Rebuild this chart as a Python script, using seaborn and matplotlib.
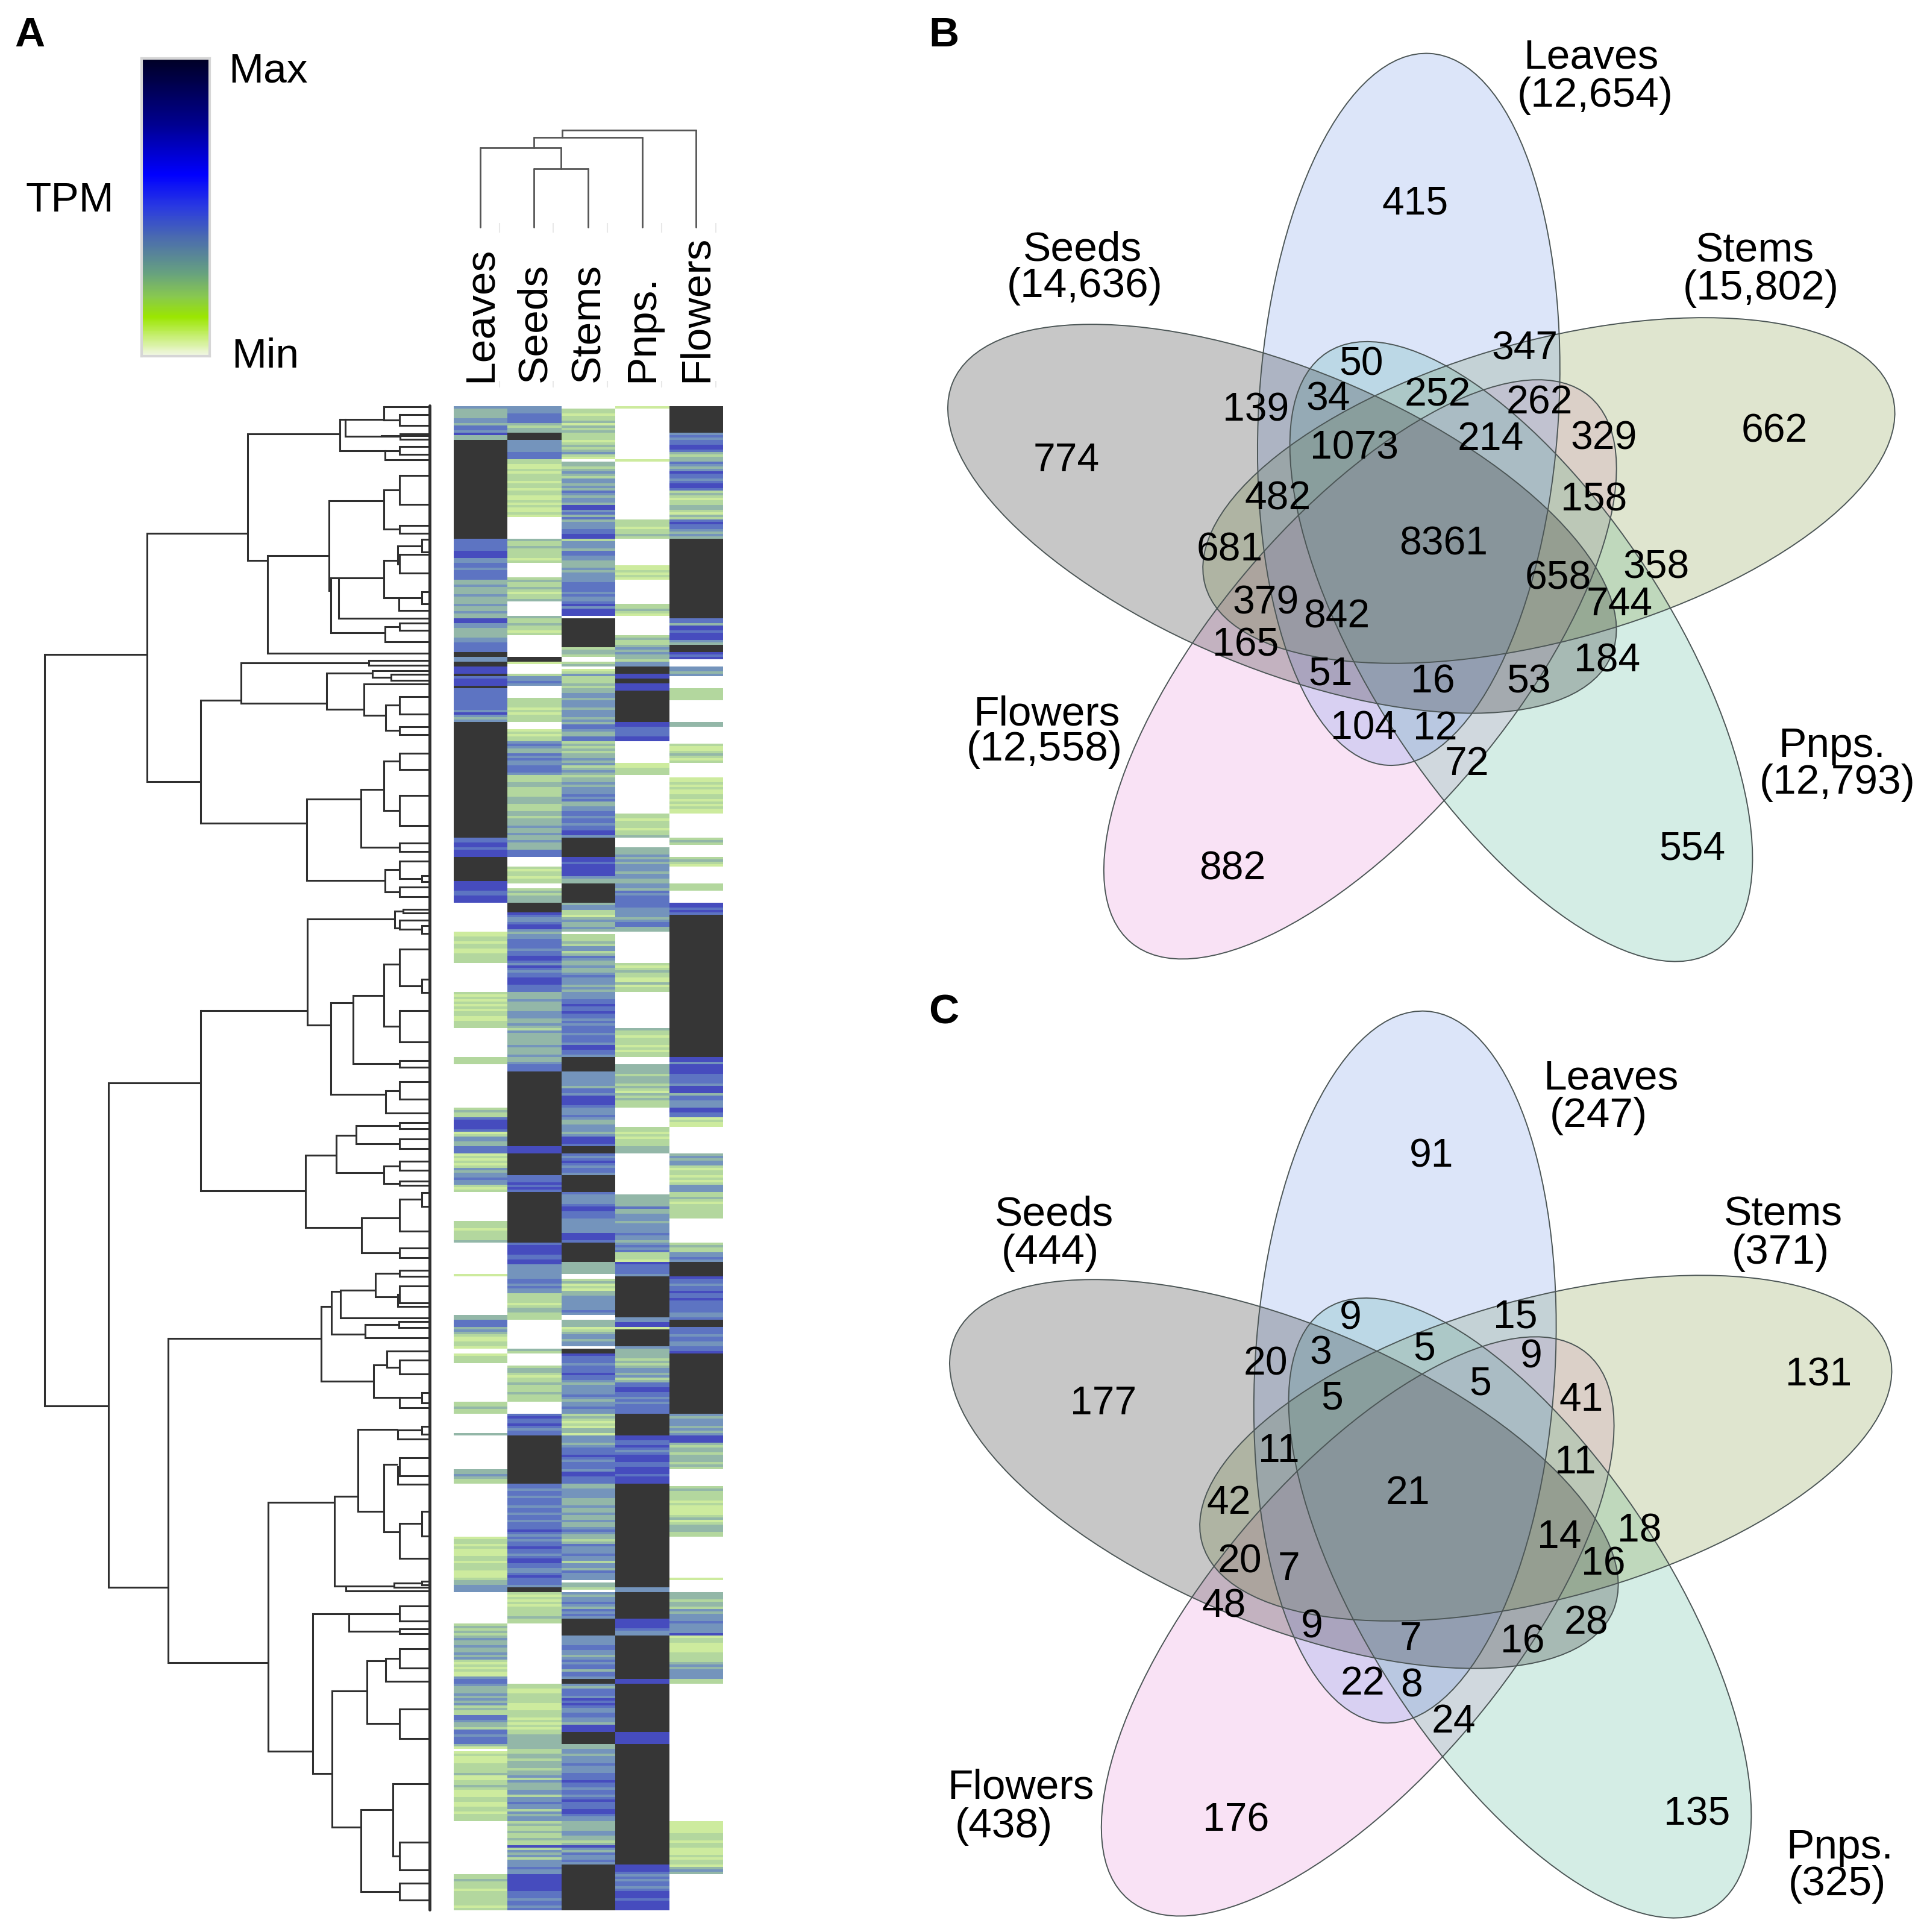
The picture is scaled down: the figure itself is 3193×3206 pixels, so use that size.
# Expression heatmap with dendrograms plus two five-set Venn panels
import matplotlib.pyplot as plt
import numpy as np
import pandas as pd
import seaborn as sns
from matplotlib.colors import LinearSegmentedColormap, ListedColormap
from matplotlib.patches import Ellipse

TISSUES = ['Leaves', 'Seeds', 'Stems', 'Pnps.', 'Flowers']

# heatmap rows. "7*41" = level 7 for 41 rows
LEAVES = [
    "0 4 3*4 4*2 3 5*2 4 6 3*2 7*41 5*5 6*3 4*2 5*2 4 5*4 3*2 4 3*3 4 3*3 4 3*2 4 3*2 6*2 4*2 3*4 4*2 5*4 7*2 4*2 7*2 6*3 7 5 6*3 7 5*7",
    "5 5 4 6 4 3 4 7*48 5 5 6 6 5 6 6 6 7*10 6 6 6 6 5 5 6 6 6 0*12 1 1 2 2 1 2 2 1 1 2 2 2 2 0*12 2 1 2 1 2 1",
    "2 1 2 2 1 1 2 2 2 0*12 2 2 2 0*18 2 3 2 2 5 6 6 6 6 5 1 2 4 4 3 3 5 5 5 1 2 1 2 1 2 4 3 4 4 5 4 4 2 1 2 0*12 2 2 2 1 2 2 2 2 3 0*13 1 0*13",
    "0*3 3 3 5 5 5 3 4 3 2 1 1 2 2 1 0*2 1 2 2 2 0*16 2 2 3 2 2 0*8 3 0*14 3 3 4 3 2 2 0*22 1 2 2 1 2 1 1 1 2 2 1 2 2 2 1 1 1 2 3 3 4 4 4 0*7",
    "0*6 2 3 2 3 2 3 4 3 3 4 3 3 4 3 4 2 1 2 1 2 1 1 4 5 5 4 3 3 3 4 3 4 3 4 2 3 2 2 5 5 4 3 3 2 5 5 4 5 5 5 3 1 0 1 2 1 1 1 2 2 2 2 3 1 1 2 2 3 2 1 1 1 2 2 1 1 2 2 1 2 2 2 0*22 2 2 3 2 2 2 1 2 2 2 2 2 2 1 2",
]
SEEDS = [
    "0 4*3 5*4 3 2 3 3 7*3 4*5 5*3 2 2 1 1 2 1 2*3 1 2*2 1 2*2 1 1 2 1 2 1 1 2 1 0*9 3 2 2 3 2 2 2 2 1 2 0*6 2 3 2 2 3 2 1 2 2 3 0*6 3 2 2 3 2 2 1 2 0*9 7*2 1 0*4 2 4 4 5 4 0*5 2*2",
    "2 1 2 1 2 2 2 0*3 1 2 1 2 2 4 5 4 3 3 5 4 5 4 4 5 5 5 4 2 2 2 3 3 2 2 2 2 3 3 3 2 2 2 3 3 2 3 3 3 4 3 3 4 3 3 4 3 3 3 5 5 5 0*4 2 1 2 2 1 2 2 0*2 2 3 2 3 3 3 7*4 6 5 4 4 5 6 6 4 3 4 4 5 5 5 5 4 5 5 6 6 5 4 6 5 4 5 5 6 6 6 5 5 5 3 3 3 4 3 3",
    "3 3 4 4 4 3 3 4 3 2 4 3 3 3 3 3 4 3 3 3 4 3 3 4 5 5 5 7*31 6 6 6 7*9 5 5 5 6 5 6 5 7*21 5 6 6 6 6 5 5 6 6 4 4 4 4 4 4 5 5 4 5 4 4 2 2 2 2 1 2",
    "3 3 2 2 2 0*12 3 2 0*5 2 3 3 2 1 2 2 3 2 2 2 3 2 2 2 0*5 5 6 5 5 6 5 4 5 5 7*20 5 5 4 5 5 4 5 5 5 4 5 5 4 5 5 4 5 5 5 6 5 4 5 4 5 5 6 5 5 4 5 6 6 5 5 4 4 5 6 5 5 5 4 7*2 2 1 2 1 2 1 2",
    "2 2 2 3 2 2 0*25 2 2 1 1 2 2 2 2 1 1 1 2 2 2 1 2 1 2 1 2 2 3*6 2 2 3 3 2 3 3 3 2 3 3 4 2 4 3 3 3 4 4 2 4 4 5 4 4 2 4 3 4 4 2 3 2 2 3 2 2 3 2 2 6 2 4 3 4 2 4 4 4 5 4 4 6*7 5 5 5 4 5 5 4 5",
]
STEMS = [
    "0*2 2 2 1 2 2 3 1 3 2 3 2 2 2 1 2 3 2 3 4 2 1 0 3 3 2 3 4 3 2 4 4 3 4 3 5 4 3 4 4 3 6*2 4 5 3 5 3 4 4 4 5 5 6 6 2 4 4 4 3 5 5 4 4 3 3 3 4 3 4 4 4 4 5 5 5 5 4 5 4 4 5 6 4 6 6 6 0 7*12 2 3 3 2 0*2 2 3 0 1 2 4 2 2 2 3 2 3 3 4 4 3 4 4",
    "4 3 4 4 4 3 4 3 5 5 4 3 3 5 5 2 3 2 3 2 3 3 4 3 4 2 3 4 3 2 3 3 4 3 4 4 4 5 4 5 3 3 4 4 5 5 4 5 5 4 5 5 6 6 4 7*8 6 6 5 6 6 6 6 6 4 3 3 7*8 3 4 4 2 2 1 3 4 3 3 4 3 0 2 2 2 3 2 4 4 2 3 5 4 3 3 4 3 3 4 5 4 4 4 3 4 3 4 4 4 5 5 6",
    "5 5 6 5 5 4 5 4 5 5 5 4 5 5 5 4 6 6 5 5 4 7*6 4 4 4 4 4 4 3 5 5 4 6 6 6 6 5 4 4 4 5 4 3 3 4 4 4 3 4 6 6 6 5 7*3 5 4 5 6 5 4 5 5 4 7*7 5 4 4 4 4 5 6 6 5 5 5 4 4 4 4 4 4 6 6 6 5 7*8 3 3 3 3 3 0*2 2 3 1 2 1 3 3 4 4 4 4 4",
    "4 5 4 0*2 3 3 3 1 2 3 4 4 3 4 4 0 7 7 6 5 5 5 4 5 5 5 6 5 5 4 3 4 4 4 4 5 4 3 4 4 5 4 4 2 3 2 1 2 1 3 3 1 4 4 4 3 4 5 5 5 6 5 4 5 5 5 4 6 6 5 5 5 3 3 4 4 4 4 3 3 3 4 3 3 4 3 3 4 3 3 4 5 4 3 3 2 3 5 4 4 4 5 4 4 2 4 4 3 5 4 4 4 0 3 3 2 0 4 3 4 4 5 4 3",
    "5 4 5 4 7*7 4 4 4 4 5 5 4 4 3 4 5 4 5 5 3 5 5 4 7*2 4 3 5 5 5 4 6 5 6 5 4 4 5 5 4 4 3 6 6 6 7*5 3 3 4 4 3 4 4 4 5 4 4 4 5 5 5 6 5 5 4 5 5 4 5 6 5 5 5 6 6 5 4 4 3 3 3 3 4 4 3 3 2 3 6 4 3 5 4 4 5 4 7*19",
]
PNPS = [
    "0 1 0*13 0*8 1 0*24 2 2 2 1 2 2 3 2 0*11 1 1 2 1 2 1 0*10 2 2 3 2 1 0*8 2 3 2 2 3 4 3 4 3 3 2 4 4 7*3 6*2 7*2 6*3 7*6",
    "7*7 6 6 5 5 5 5 6 6 0*9 1 1 2 2 2 0*16 2 2 1 2 2 2 1 2 2 3 0*4 3 3 3 4 3 4 3 4 4 4 3 4 4 3 3 4 4 3 5 4 5 5 5 5 5 4 4 4 4 3 4 5 5 3 3 0*13 2 1 2 3 2 2 1 1 3 1 2 2 0*6",
    "0*9 3 2 2 1 2 2 2 1 2 1 2 2 0*3 3 3 3 3 2 3 3 3 2 3 2 1 3 2 3 2 2 2 0*8 2 2 1 2 1 2 2 2 3 3 3 0*17 3 3 3 3 3 5 3 3 4 4 4 3 4 4 4 4 5 4 4 3 4 5 4 5 2 2 2 1 6 5 5 5 5 4 7*13",
    "7*4 4 4 6 6 1 7*7 4 3 3 3 3 2 3 2 3 4 4 3 4 2 3 5 5 6 6 5 5 4 5 4 5 5 5 5 7*9 6 6 5 5 6 5 4 5 6 6 6 5 5 6 6 6 5 6 6 6 7*43 4 4 7*7",
    "7*4 6 6 6 6 5 4 4 7*18 6 6 7*20 6*5 7*50 6 6 6 5 4 5 4 5 5 4 5 6 6 6 5 6 6 6 6",
]
FLOWERS = [
    "0 7*11 4 5 4 5 5 6 6 5 3 2 3 3 5 4 3 4 6 5 5 4 5 6 6 5 2 3 2 1 2 2 3 3 2 1 3 2 5 6 5 5 4 3 4 3 7*33 5 5 3 6 6 5 6 6 6 4 3 7*3 6 5 6 0*3 4 4 3 4 0*5 2*5 0*2",
    "0*7 3 3 0*7 2 1 1 2 3 2 1 2 0*6 1 1 2 1 2 1 1 2 2 1 2 1 2 1 1 0*10 2 3 2 0*5 2 3 2 1 0*7 2 2 2 0*5 6 6 5 6 5 7*38",
    "7*21 6 6 4 6 6 6 6 5 5 5 5 4 6 6 6 3 5 5 4 4 4 6 6 5 5 1 2 1 1 0*11 3 4 3 4 4 2 1 2 2 1 2 1 2 4 4 4 2 2 3 2 1 2 2 2 2 2 2 0*10 2 3 2 2 4 4 5 4 7*6 6 5 5 4 5 5 6 5 5 6 5 5 5",
    "5 5 4 4 5 7*3 5 5 5 4 5 5 4 4 5 5 6 7*25 4 3 4 4 4 3 4 3 4 6 6 6 3 2 3 3 2 3 3 3 2 3 2 0*7 2 3 2 2 2 2 1 2 1 1 1 1 2 3 1 2 3 3 3 2 2 0*17 1 0*5 3 3 3 2 3 3 2",
    "4 3 4 4 4 5 4 4 4 4 6 1 2 2 1 1 1 1 2 2 2 2 3 4 3 4 4 4 4 2 2 0*57 1 1 1 1 1 2 2 2 1 2 2 1 1 1 2 1 2 2 1 3 4 3 0*15",
]
RUNS = [LEAVES, SEEDS, STEMS, PNPS, FLOWERS]

# colours of levels 0..7 in the heatmap
LEVEL_COLOURS = ['#ffffff', '#cdeb9e', '#b3d79e', '#93b7a8', '#7494bc',
                 '#5d74c2', '#464cbe', '#363636']
TPM_COLOURS = [(0, '#f2f7e6'), (0.13, '#9be600'), (0.2, '#88c850'),
               (0.28, '#66a080'), (0.4, '#4a6ab0'), (0.5, '#2a3ae0'),
               (0.61, '#0000ff'), (0.78, '#000090'), (1, '#000025')]

# gene dendrogram: (x of the join, child, child[, row of its stem])
# plain numbers are leaf rows; joins without a stem row take the middle
ROW_TREE = (153,
    (503,
        (848,
            (1163,
                (1183,
                    (1315, 42, (1368, 58, 80), 68),
                    (1305, 100, (1370, 96, 107)), 68),
                (1318, (1368, 122, 138), 148, 130), 97),
            (917,
                (1127,
                    (1315, (1368, 180, 238), (1368, 280, 295), 230),
                    (1132,
                        (1160,
                            (1315,
                                (1362, (1445, 308, 333), (1368, 338, 375), 350),
                                (1365, (1445, 412, 437), 450, 425), 385),
                            465, 385),
                        (1318, (1368, 475, 490), 512, 495), 410), 340),
                535, 350), 295),
        (688,
            (825,
                (1262, 550, 560, 555),
                (1118,
                    (1275, 570, (1340, 578, 590), 575),
                    (1247, 597, (1320, (1368, 622, 657), (1368, 682, 698), 660), 648), 635), 630),
            (1050,
                (1235,
                    (1315, (1368, 735, 768), (1368, 820, 880), 808),
                    (1368, 915, 932), 827),
                (1318,
                    (1368, 952, (1445, 980, 992), 968),
                    (1368, 1003, 1022), 990), 875), 792), 538),
    (372,
        (688,
            (1052,
                (1352, (1380, 1048, 1055), (1368, 1070, (1445, 1080, 1096), 1085), 1067),
                (1132,
                    (1208,
                        (1315,
                            (1368, 1127, (1445, 1188, 1214), 1158),
                            (1368, 1250, 1313), 1220),
                        (1368, 1350, 1364), 1235),
                    (1320, (1368, 1393, 1428), 1455, 1418), 1280), 1250),
            (1045,
                (1152,
                    (1220, (1368, 1475, 1487), (1368, 1507, 1527), 1500),
                    (1315, (1368, 1552, 1570), (1368, 1592, 1600), 1575), 1540),
                (1238,
                    (1368, (1445, 1615, 1642), 1692, 1665),
                    (1368, 1725, 1745), 1685), 1611), 1395),
        (575,
            (1100,
                (1135,
                    (1165,
                        (1285, (1368, 1770, 1782), (1362, (1368, 1802, 1835), 1842, 1823), 1810),
                        1865, 1812),
                    (1250, (1365, 1873, 1885), 1905, 1898), 1842),
                (1280,
                    (1325, 1932, (1368, 1950, 1978), 1960),
                    (1368, (1445, 2015, 2035), 2045, 2025), 1992), 1907),
            (918,
                (1145,
                    (1225,
                        (1362, (1445, 2082, 2098), 2108, 2088),
                        (1315,
                            (1362, (1368, 2145, 2182), 2198, 2158),
                            (1368, (1445, 2252, 2302), 2347, 2293), 2253), 2223),
                    (1185, (1350, (1445, 2392, 2400), 2405, 2402), 2412, 2402), 2235),
                (1070,
                    (1195, (1368, 2442, 2472), (1368, 2488, 2497), 2458),
                    (1137,
                        (1257,
                            (1320, (1368, 2528, 2566), 2592, 2552),
                            (1368, 2648, 2707), 2612),
                        (1235,
                            (1345, 2797, (1368, 2915, 2970), 2850),
                            (1368, 2997, 3030), 2885), 2777), 2733), 2555), 2404), 2042))
TREE_END = 1472

# tissue dendrogram: (pixel row of the join, child, child[, column of its stem])
COL_TREE = (216, (228, (245, 0, (280, 1, 2, 931), 886), 3, 933), 4)
COL_CENTRES = [797, 886, 976, 1066, 1155]
COL_TICKS = [829, 918, 1008, 1098, 1188]

# Venn panels
SETS = ['Flowers', 'Pnps.', 'Stems', 'Leaves', 'Seeds']
SET_COLOURS = ['#eb8fdb', '#57bb9b', '#839b43', '#779beb', '#232323']
SET_ANGLES = [-50, 57, -15.4, -86.6, 22.5]
B_CENTRES = [(1106.5, 544.5), (1237.5, 530), (1260, 399), (1146, 333), (1043, 422)]
C_CENTRES = [(1104.5, 1323), (1236.5, 1308), (1257.5, 1178), (1143, 1112), (1044.5, 1199)]

B_COUNTS = ['415', '774', '662', '882', '554', '50', '347', '139', '34', '252', '262',
            '329', '1073', '214', '482', '158', '681', '8361', '658', '358', '744',
            '379', '842', '165', '51', '16', '53', '184', '104', '12', '72']
B_COUNT_XY = [(1149, 163), (865, 372), (1441, 348), (1000, 704), (1374, 688), (1105, 294),
              (1238, 281), (1019, 331), (1078, 322), (1167, 319), (1250, 325), (1302, 354),
              (1099, 362), (1210, 355), (1037, 403), (1294, 404), (998, 445), (1172, 440),
              (1265, 468), (1345, 459), (1315, 489), (1027, 488), (1085, 499), (1011, 522),
              (1080, 546), (1163, 552), (1241, 552), (1305, 535), (1107, 590), (1165, 590),
              (1191, 619)]
B_TITLES = ['Leaves', '(12,654)', 'Seeds', '(14,636)', 'Stems', '(15,802)',
            'Flowers', '(12,558)', 'Pnps.', '(12,793)']
B_TITLE_XY = [(1292, 44), (1295, 75), (878, 200), (880, 230), (1425, 201), (1430, 232),
              (849, 578), (847, 607), (1488, 604), (1492, 634)]

C_COUNTS = ['91', '177', '131', '176', '135', '9', '15', '20', '3', '5', '9', '5', '5',
            '41', '11', '11', '42', '21', '14', '18', '16', '20', '7', '48', '9', '7',
            '16', '28', '22', '8', '24']
C_COUNT_XY = [(1162, 938), (895, 1139), (1477, 1116), (1003, 1478), (1378, 1473), (1096, 1070),
              (1230, 1069), (1027, 1107), (1072, 1098), (1156, 1095), (1243, 1101), (1081, 1135),
              (1202, 1123), (1284, 1136), (1038, 1178), (1279, 1187), (997, 1220), (1143, 1212),
              (1266, 1248), (1331, 1243), (1302, 1270), (1006, 1268), (1046, 1274), (993, 1304),
              (1065, 1321), (1145, 1331), (1236, 1333), (1288, 1318), (1106, 1367), (1146, 1369),
              (1180, 1398)]
C_TITLES = ['Leaves', '(247)', 'Seeds', '(444)', 'Stems', '(371)',
            'Flowers', '(438)', 'Pnps.', '(325)']
C_TITLE_XY = [(1308, 874), (1298, 905), (855, 985), (852, 1016), (1448, 985), (1446, 1016),
              (828, 1451), (814, 1483), (1494, 1500), (1492, 1530)]

W, H = 3193, 3206
SCALE = 2.04  # picture units used for the Venn panels -> pixels
TEXT_DX, TEXT_DY = 2.5, 3


def px_axes(fig, x0, y0, x1, y1, **kw):
    return fig.add_axes([x0 / W, 1 - y1 / H, (x1 - x0) / W, (y1 - y0) / H], **kw)


def expand(text, n_rows=125):
    rows = []
    for tok in text.split():
        level, _, count = tok.partition('*')
        rows += [int(level)] * int(count or 1)
    if len(rows) != n_rows:
        print('section length', len(rows))
    return (rows + [rows[-1]] * n_rows)[:n_rows]


def draw_row_tree(ax, node):
    if not isinstance(node, tuple):
        return TREE_END, node
    x, first, second = node[:3]
    p1 = draw_row_tree(ax, first)
    p2 = draw_row_tree(ax, second)
    ax.plot([x, x], [p1[1], p2[1]], color='#2f2f2f', lw=2.2, solid_capstyle='projecting')
    for p in (p1, p2):
        ax.plot([x, p[0]], [p[1], p[1]], color='#2f2f2f', lw=2.2, solid_capstyle='butt')
    stem = node[3] if len(node) > 3 else (p1[1] + p2[1]) / 2
    return x, stem


def draw_col_tree(ax, node, base):
    if not isinstance(node, tuple):
        return COL_CENTRES[node], base
    y, first, second = node[:3]
    p1 = draw_col_tree(ax, first, base)
    p2 = draw_col_tree(ax, second, base)
    ax.plot([p1[0], p2[0]], [y, y], color='#555555', lw=2)
    for p in (p1, p2):
        ax.plot([p[0], p[0]], [y, p[1]], color='#555555', lw=2)
    stem = node[3] if len(node) > 3 else (p1[0] + p2[0]) / 2
    return stem, y


def draw_venn(ax, centres):
    for c, colour, angle in zip(centres, SET_COLOURS, SET_ANGLES):
        ax.add_patch(Ellipse(c, 580, 244, angle=angle, facecolor=colour, alpha=0.25, lw=0))
    for c, angle in zip(centres, SET_ANGLES):
        ax.add_patch(Ellipse(c, 580, 244, angle=angle, fill=False, edgecolor='#4c5656', lw=1.4))


sns.set_theme(style='white')
plt.rcParams['font.family'] = ['Liberation Sans', 'DejaVu Sans']

fig = plt.figure(figsize=(W / 100, H / 100), dpi=100, facecolor='white')

# heatmap
table = pd.DataFrame(
    {name: sum((expand(part) for part in runs), []) for name, runs in zip(TISSUES, RUNS)})
ax_heat = px_axes(fig, 753, 670, 1200, 3170)
sns.heatmap(table, ax=ax_heat, cmap=ListedColormap(LEVEL_COLOURS), vmin=-0.5, vmax=7.5,
            cbar=False, yticklabels=False, linewidths=0)
ax_heat.xaxis.tick_top()
ax_heat.tick_params(axis='x', length=0, pad=26, labelsize=50, labelrotation=90, colors='black')

# colour key
ax_key = px_axes(fig, 235, 97, 348, 591)
tpm_cmap = LinearSegmentedColormap.from_list('tpm', TPM_COLOURS)
sns.heatmap(np.linspace(1, 0, 256)[:, None], ax=ax_key, cmap=tpm_cmap, vmin=0, vmax=1,
            cbar=False, xticklabels=False, yticklabels=False)
for spine in ax_key.spines.values():
    spine.set_visible(True)
    spine.set_color('#d6d6d6')
    spine.set_linewidth(3)

ax_rows = px_axes(fig, 0, 640, 760, 3200)
ax_rows.set_xlim(0, 1568)
ax_rows.set_ylim(3087, 0)
ax_rows.axis('off')
draw_row_tree(ax_rows, ROW_TREE)
ax_rows.plot([TREE_END, TREE_END], [40, 3050], color='#2f2f2f', lw=3.5)

# everything else sits on full-figure layers
ax_cols = fig.add_axes([0, 0, 1, 1], zorder=4)
ax_cols.set_xlim(0, W)
ax_cols.set_ylim(H, 0)
ax_cols.axis('off')
ax_cols.patch.set_alpha(0)
draw_col_tree(ax_cols, COL_TREE, 377)
ax_cols.vlines(COL_TICKS, 370, 386, color='#e8e8e8', lw=1.5)
ax_cols.vlines(COL_TICKS, 632, 643, color='#e8e8e8', lw=1.5)

ax = fig.add_axes([0, 0, 1, 1], zorder=5)
ax.set_xlim(0, W / SCALE)
ax.set_ylim(H / SCALE, 0)
ax.axis('off')
ax.patch.set_alpha(0)

ax.text(24, 29, 'A', fontsize=50, fontweight='bold', ha='center', va='center', color='black')
ax.text(768, 29, 'B', fontsize=50, fontweight='bold', ha='center', va='center', color='black')
ax.text(768, 824, 'C', fontsize=50, fontweight='bold', ha='center', va='center', color='black')
ax.text(218, 58, 'Max', fontsize=50, ha='center', va='center', color='black')
ax.text(216, 290, 'Min', fontsize=50, ha='center', va='center', color='black')
ax.text(57, 163, 'TPM', fontsize=50, ha='center', va='center', color='black')

draw_venn(ax, B_CENTRES)
draw_venn(ax, C_CENTRES)
for labels, places, size in [(B_COUNTS, B_COUNT_XY, 47.5), (C_COUNTS, C_COUNT_XY, 47.5),
                             (B_TITLES, B_TITLE_XY, 50), (C_TITLES, C_TITLE_XY, 50)]:
    for label, (x, y) in zip(labels, places):
        ax.text(x + TEXT_DX, y + TEXT_DY, label, fontsize=size, ha='center', va='center',
                color='black')

fig.savefig('out.png', dpi=100)
